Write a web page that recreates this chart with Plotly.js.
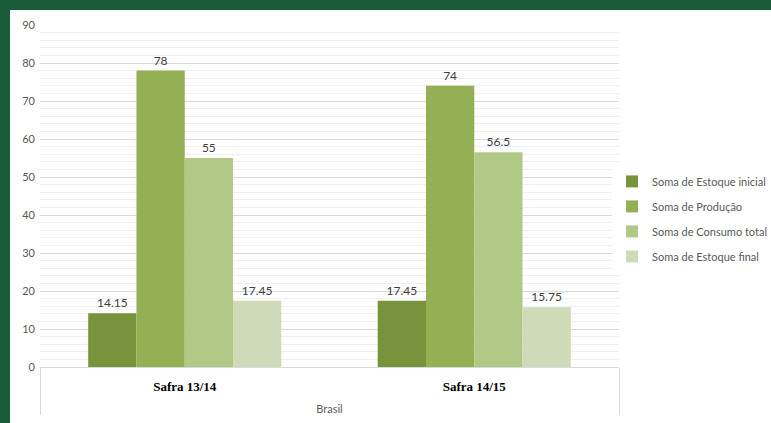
<!DOCTYPE html>
<html>
<head>
<meta charset="utf-8">
<script src="https://cdn.plot.ly/plotly-3.0.1.min.js"></script>
<style>
  html, body { margin: 0; padding: 0; background: #1a5c38; width: 771px; height: 423px; overflow: hidden; }
  #frame { position: absolute; left: 10px; top: 10px; width: 761px; height: 413px; background: #ffffff; }
  #chart { width: 761px; height: 413px; }
</style>
</head>
<body>
<div id="frame"><div id="chart"></div></div>
<script>
// Data
const region = 'Brasil';
const safras = ['Safra 13/14', 'Safra 14/15'];
const seriesNames = ['Soma de Estoque inicial', 'Soma de Produção', 'Soma de Consumo total', 'Soma de Estoque final'];
const estoqueInicial = [14.15, 17.45];
const producao = [78, 74];
const consumoTotal = [55, 56.5];
const estoqueFinal = [17.45, 15.75];
const seriesColors = ['#77933c', '#93b055', '#b0c986', '#cfdbb8'];

const allValues = [estoqueInicial, producao, consumoTotal, estoqueFinal];

// multicategory x: outer = region, inner = safra (bold serif, like the original)
const xCats = [
    safras.map(() => '<br>' + region),
    safras.map(s => '<b><span style="font-family:\'Liberation Serif\';color:#000000;font-size:13px">' + s + '</span></b>')
];

const traces = allValues.map((vals, i) => ({
    type: 'bar',
    x: xCats,
    y: vals,
    name: seriesNames[i],
    legendgroup: 'g' + i,
    marker: {color: seriesColors[i]},
    text: vals.map(v => String(v)),
    textposition: 'outside',
    textfont: {family: 'Lato', size: 12, color: '#404040'},
    cliponaxis: false,
    hoverinfo: 'skip'
}));

const layout = {
    width: 761,
    height: 413,
    margin: {l: 30, r: 152, t: 15, b: 56, autoexpand: false},
    paper_bgcolor: '#ffffff',
    plot_bgcolor: '#ffffff',
    font: {family: 'Lato', size: 11, color: '#595959'},
    barmode: 'group',
    bargap: 0.333,
    bargroupgap: 0,
    showlegend: true,
    legend: {
        x: 0.988, xanchor: 'left',
        y: 0.433, yanchor: 'middle',
        font: {family: 'Lato', size: 11, color: '#595959'},
        traceorder: 'grouped',
        tracegroupgap: 6,
        itemwidth: 30
    },
    xaxis: {
        type: 'multicategory',
        showline: true,
        linecolor: '#d9d9d9',
        linewidth: 1,
        showgrid: false,
        ticks: '',
        showdividers: true,
        dividercolor: '#d9d9d9',
        dividerwidth: 1,
        ticklabelstandoff: 10,
        tickfont: {family: 'Lato', size: 11, color: '#595959'}
    },
    yaxis: {
        range: [0, 90],
        dtick: 10,
        showline: false,
        zeroline: false,
        gridcolor: '#d9d9d9',
        gridwidth: 1,
        ticks: '',
        ticklabelstandoff: 4,
        tickfont: {family: 'Lato', size: 11, color: '#595959'},
        minor: {dtick: 2, showgrid: true, gridcolor: '#efefef', gridwidth: 1}
    }
};

Plotly.newPlot('chart', traces, layout, {displayModeBar: false, staticPlot: true});
</script>
</body>
</html>
